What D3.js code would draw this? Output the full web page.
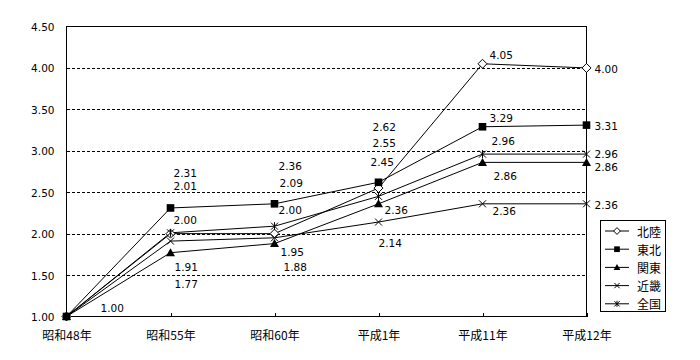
<!DOCTYPE html>
<html><head><meta charset="utf-8">
<script src="https://cdn.jsdelivr.net/npm/d3@7"></script>
<style>
html,body{margin:0;padding:0;background:#fff;}
text{font-family:"Noto Sans CJK JP","Noto Sans",sans-serif;font-size:12px;fill:#000;}
text.num{font-family:"DejaVu Sans","Noto Sans CJK JP",sans-serif;font-size:10.5px;}
</style></head>
<body>
<svg id="c" width="700" height="360"></svg>
<script>
const categories = ["昭和48年","昭和55年","昭和60年","平成1年","平成11年","平成12年"];
const seriesNames = ["北陸","東北","関東","近畿","全国"];
const hokuriku = [1.00, 2.00, 2.00, 2.55, 4.05, 4.00];
const tohoku   = [1.00, 2.31, 2.36, 2.62, 3.29, 3.31];
const kanto    = [1.00, 1.77, 1.88, 2.36, 2.86, 2.86];
const kinki    = [1.00, 1.91, 1.95, 2.14, 2.36, 2.36];
const zenkoku  = [1.00, 2.01, 2.09, 2.45, 2.96, 2.96];
const yTicks = [1.00, 1.50, 2.00, 2.50, 3.00, 3.50, 4.00, 4.50];

// label placement (offsets from point, layout only)
const labelOffsets = [
  [[34,-9],[3,-14],[4,-24],[-6,-45],[7,-9],[8,1]],
  [null,[3,-35],[4,-38],[-6,-55],[7,-9],[8,1]],
  [null,[4,31],[9,23],[6,6],[11,14],[8,5]],
  [null,[4,26],[6,14],[0,21],[10,7],[8,1]],
  [null,[3,-47],[5,-43],[-8,-34],[9,-13],[8,0]]
];
const markers = ["diamond","square","triangle","x","star"];
const allSeries = [hokuriku, tohoku, kanto, kinki, zenkoku];

const svg = d3.select("#c");
const L = 66.5, R = 586.5, T = 26.5, B = 316.5;
const x = d3.scalePoint().domain(categories).range([L, R]).padding(0);
const y = d3.scaleLinear().domain([1, 4.5]).range([B, T]);

// gridlines
svg.append("g").selectAll("line").data(yTicks.filter(v => v > 1 && v < 4.5)).join("line")
  .attr("x1", L).attr("x2", R)
  .attr("y1", d => Math.round(y(d)) + 0.5).attr("y2", d => Math.round(y(d)) + 0.5)
  .attr("stroke", "#000").attr("stroke-dasharray", "3,2").attr("shape-rendering", "crispEdges");

// plot frame
svg.append("rect").attr("x", L).attr("y", T).attr("width", R - L).attr("height", B - T)
  .attr("fill", "none").attr("stroke", "#000").attr("shape-rendering", "crispEdges");

// y axis
const ya = svg.append("g").attr("transform", `translate(${L},0)`)
  .call(d3.axisLeft(y).tickValues(yTicks).tickFormat(d3.format(".2f")).tickSize(0).tickPadding(12));
ya.select(".domain").remove();
ya.selectAll("text").attr("dy", null).attr("dominant-baseline", "central").attr("class", "num")
  .style("font-family", null).style("font-size", null);
ya.attr("font-family", null).attr("font-size", null);

// x axis
const xa = svg.append("g").attr("transform", `translate(0,${B})`)
  .call(d3.axisBottom(x).tickSizeInner(-4).tickSizeOuter(0));
xa.attr("font-family", null).attr("font-size", null);
xa.select(".domain").remove();
xa.selectAll("line").attr("stroke", "#000").attr("shape-rendering", "crispEdges");
xa.selectAll("text").attr("y", 18).attr("dy", null).attr("dominant-baseline", "central");

function markerPath(type, s) {
  const p = d3.path();
  if (type === "diamond") { p.moveTo(0,-4.5*s); p.lineTo(4.5*s,0); p.lineTo(0,4.5*s); p.lineTo(-4.5*s,0); p.closePath(); }
  else if (type === "square") { p.rect(-3.8*s,-3.8*s,7.6*s,7.6*s); }
  else if (type === "triangle") { p.moveTo(0,-4.5*s); p.lineTo(4.5*s,3.5*s); p.lineTo(-4.5*s,3.5*s); p.closePath(); }
  else if (type === "x") { p.moveTo(-3.5*s,-3.5*s); p.lineTo(3.5*s,3.5*s); p.moveTo(3.5*s,-3.5*s); p.lineTo(-3.5*s,3.5*s); }
  else if (type === "star") { p.moveTo(-3.5*s,-3.5*s); p.lineTo(3.5*s,3.5*s); p.moveTo(3.5*s,-3.5*s); p.lineTo(-3.5*s,3.5*s); p.moveTo(0,-4*s); p.lineTo(0,4*s); }
  return p.toString();
}
function markerStyle(sel, type) {
  if (type === "diamond") sel.attr("fill", "#fff").attr("stroke", "#000").attr("stroke-width", 1);
  else if (type === "square" || type === "triangle") sel.attr("fill", "#000").attr("stroke", "none");
  else sel.attr("fill", "none").attr("stroke", "#000").attr("stroke-width", 1);
}

const line = d3.line().x((d, i) => x(categories[i])).y(d => y(d));
const gl = svg.append("g");
allSeries.forEach(s => {
  gl.append("path").datum(s).attr("d", line).attr("fill", "none").attr("stroke", "#000").attr("stroke-width", 1);
});
allSeries.forEach((s, si) => {
  const g = svg.append("g");
  s.forEach((v, i) => {
    const m = g.append("path").attr("d", markerPath(markers[si], 1))
      .attr("transform", `translate(${x(categories[i])},${y(v)})`);
    markerStyle(m, markers[si]);
  });
});
// data labels
allSeries.forEach((s, si) => {
  s.forEach((v, i) => {
    const o = labelOffsets[si][i];
    if (!o) return;
    svg.append("text").attr("class", "num").attr("x", x(categories[i]) + o[0]).attr("y", y(v) + o[1])
      .attr("dominant-baseline", "central").text(d3.format(".2f")(v));
  });
});

// legend
const lg = svg.append("g");
lg.append("rect").attr("x", 600.5).attr("y", 220.5).attr("width", 65).attr("height", 91)
  .attr("fill", "#fff").attr("stroke", "#000").attr("shape-rendering", "crispEdges");
seriesNames.forEach((n, i) => {
  const yy = 231 + i * 18.2;
  lg.append("line").attr("x1", 605).attr("x2", 629).attr("y1", yy).attr("y2", yy).attr("stroke", "#000");
  const m = lg.append("path").attr("d", markerPath(markers[i], 0.75)).attr("transform", `translate(617,${yy})`);
  markerStyle(m, markers[i]);
  lg.append("text").attr("x", 637).attr("y", yy).attr("dominant-baseline", "central").text(n);
});
</script>
</body></html>
